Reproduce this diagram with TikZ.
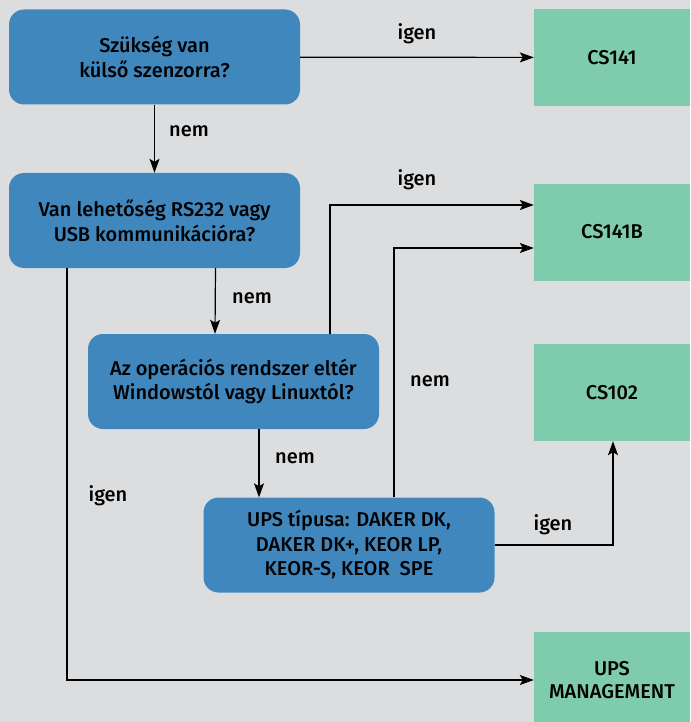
\documentclass[tikz,border=0pt]{standalone}
\usepackage{fontspec}
\setmainfont{Fira Sans Medium}
\usetikzlibrary{arrows.meta,positioning,calc}
\definecolor{bggray}{HTML}{DCDDDF}
\definecolor{qblue}{HTML}{4087BD}
\definecolor{rgreen}{HTML}{7FCBAD}
\tikzset{
  qbox/.style={fill=qblue, rounded corners=15pt, minimum width=291pt, minimum height=95pt, align=center, inner sep=0pt, font=\fontsize{20}{24.5}\selectfont},
  rbox/.style={fill=rgreen, minimum width=156pt, minimum height=97pt, align=center, inner sep=0pt, font=\fontsize{20}{23.5}\selectfont},
  qline/.style={-{Stealth[length=14pt,width=10pt,inset=3pt]}, line width=1.2pt},
  qlabel/.style={inner sep=0pt, font=\fontsize{20}{24}\selectfont}
}
\begin{document}
\begin{tikzpicture}[x=1pt,y=-1pt]
  \useasboundingbox (0,0) rectangle (690,722);
  \fill[bggray] (0,0) rectangle (690,722);
  % questions
  \node[qbox] (q1) at (154.5,57) {Szükség van\\külső szenzorra?};
  \node[qbox] (q2) at (154.5,220.5) {Van lehetőség RS232 vagy\\USB kommunikációra?};
  \node[qbox] (q3) at (233.5,381.5) {Az operációs rendszer eltér\\Windowstól vagy Linuxtól?};
  \node[qbox] (q4) at (349,545) {UPS típusa: DAKER DK,\\DAKER DK+, KEOR LP,\\KEOR-S, KEOR~ SPE};
  % results
  \node[rbox] (r1) at (612,57.5) {CS141};
  \node[rbox] (r2) at (612,232) {CS141B};
  \node[rbox] (r3) at (612,392.5) {CS102};
  \node[rbox, minimum height=96pt] (r4) at (612,680) {UPS\\MANAGEMENT};
  % connectors
  \draw[qline] (q1) -- (r1);
  \draw[qline] (q1) -- (q2);
  \draw[qline] ([xshift=61pt]q2.south) -- ([xshift=-18.5pt]q3.north);
  \draw[qline] ([xshift=-87.5pt]q2.south) |- (r4.west);
  \draw[qline] ([xshift=96.5pt]q3.north) |- ([yshift=27pt]r2.west);
  \draw[qline] ([xshift=25.5pt]q3.south) -- ([xshift=-90pt]q4.north);
  \draw[qline] ([xshift=45pt]q4.north) |- ([yshift=-16pt]r2.west);
  \draw[qline] (q4.east) -| ([xshift=1pt]r3.south);
  % labels
  \node[qlabel] (l1) at (417,34) {igen};
  \node[qlabel] (l2) at (417,180) {igen};
  \node[qlabel] (l3) at (189,131) {nem};
  \node[qlabel] (l4) at (252,298) {nem};
  \node[qlabel] (l5) at (295,458) {nem};
  \node[qlabel] (l6) at (108,496) {igen};
  \node[qlabel] (l7) at (430,381) {nem};
  \node[qlabel] (l8) at (553,525) {igen};
\end{tikzpicture}
\end{document}
